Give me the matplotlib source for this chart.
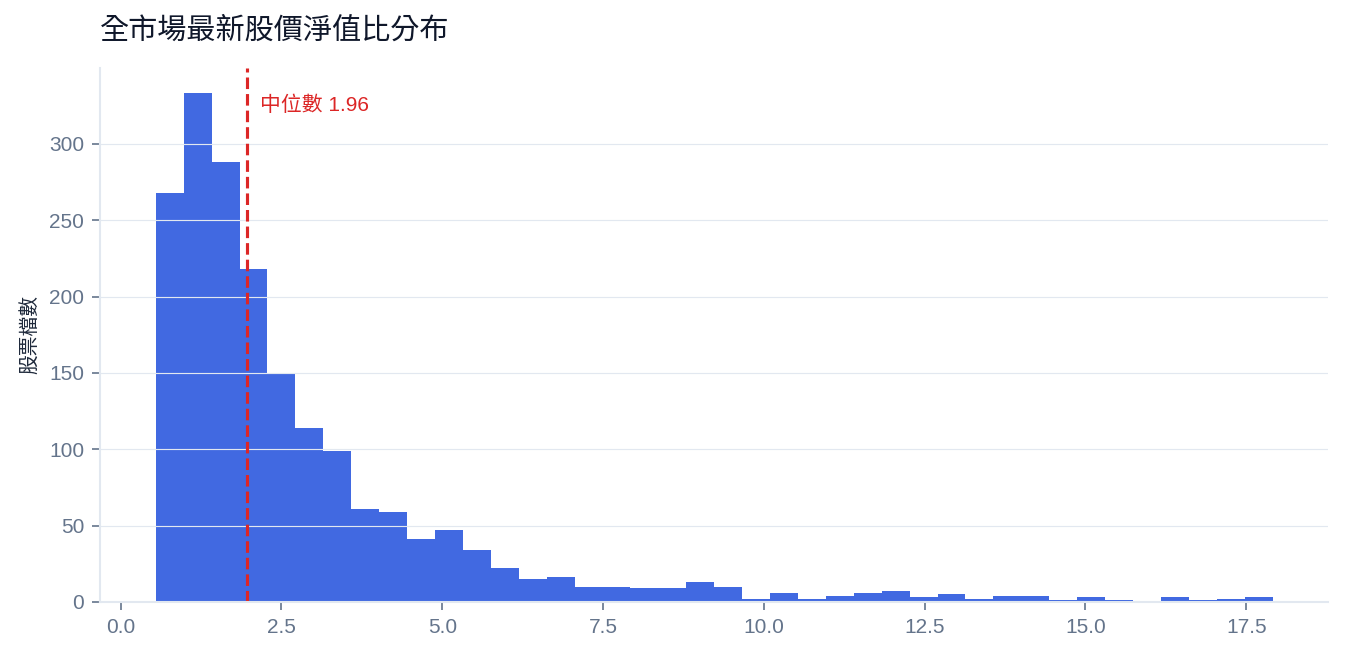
import numpy as np
import matplotlib
matplotlib.use("Agg")
import matplotlib.pyplot as plt

plt.rcParams['font.family'] = ['Liberation Sans', 'Noto Sans CJK TC', 'DejaVu Sans']

# Data
bin_min = 0.545
bin_max = 17.91
counts = [268, 333, 288, 218, 150, 114, 99, 61, 59, 41,
          47, 34, 22, 15, 16, 10, 10, 9, 9, 13,
          10, 2, 6, 2, 4, 6, 7, 3, 5, 2,
          4, 4, 1, 3, 1, 0, 3, 1, 2, 3]
median_value = 1.96
title = "全市場最新股價淨值比分布"
ylabel = "股票檔數"
median_label = f"中位數 {median_value:.2f}"

edges = np.linspace(bin_min, bin_max, len(counts) + 1)

fig = plt.figure(figsize=(9, 4.4), dpi=150)
ax = fig.add_axes([0.074, 0.088, 0.910, 0.809])

ax.hist(edges[:-1], bins=edges, weights=counts, color="#4169e1")

ax.axvline(median_value, color="#dc2626", linestyle="--", linewidth=1.5)
ax.text(median_value + 0.2, 325, median_label, color="#dc2626",
        fontsize=10, va="center", ha="left")

ax.set_title(title, loc="left", fontsize=14, color="#0f172a", pad=14,
             family=['Noto Sans CJK TC', 'DejaVu Sans'], fontweight='medium')
ax.set_ylabel(ylabel, fontsize=9.5, color="#1e293b",
              family=['Noto Sans CJK TC', 'DejaVu Sans'])

ax.grid(axis="y", color="#e2e8f0", linewidth=0.55)
ax.grid(axis="x", visible=False)
for s in ["top", "right"]:
    ax.spines[s].set_visible(False)
for s in ["left", "bottom"]:
    ax.spines[s].set_color("#e2e8f0")
    ax.spines[s].set_linewidth(1.0)
ax.tick_params(axis="both", colors="#64748b", labelsize=10, length=4)

fig.savefig("out.png", dpi=150, facecolor="white")
